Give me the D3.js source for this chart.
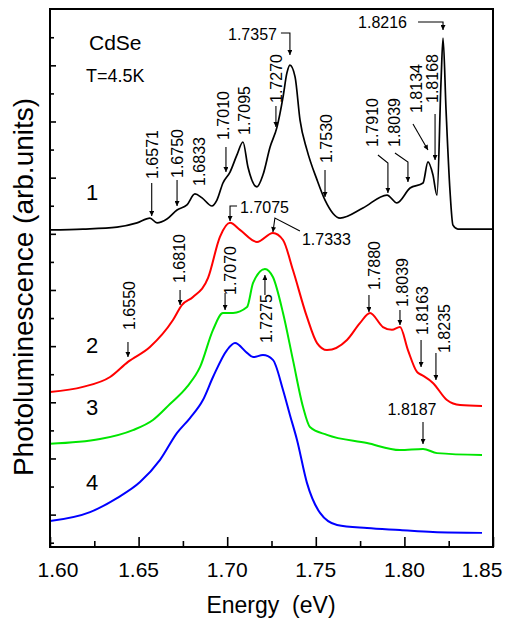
<!DOCTYPE html>
<html><head><meta charset="utf-8">
<script src="https://cdn.jsdelivr.net/npm/d3@7"></script>
<style>
body{margin:0;background:#fff}
svg{display:block}
text{font-family:"Liberation Sans",Arial,Helvetica,sans-serif;fill:#000}
</style>
</head><body>
<svg id="chart" width="509" height="621"></svg>
<script>
// ---------- data ----------
const xTickValues = [1.60, 1.65, 1.70, 1.75, 1.80, 1.85];
const xTickLabels = ["1.60", "1.65", "1.70", "1.75", "1.80", "1.85"];
const xMinorTicks = [1.625, 1.675, 1.725, 1.775, 1.825];
const yMajorTicks = [1, 3, 5, 7, 9, 11, 13, 15, 17];
const yMinorTicks = [0, 2, 4, 6, 8, 10, 12, 14, 16, 18];

const curveNames = ["1", "2", "3", "4"];
const curveColors = ["#000000", "#ff0000", "#00e600", "#0000ff"];

const energy1 = [1.600,1.6186,1.6378,1.6491,1.6564,1.6604,1.6660,1.6717,1.6773,1.6818,1.6858,1.6914,1.6942,1.6976,1.7016,1.7055,1.7089,1.7117,1.7168,1.7202,1.7242,1.7281,1.7315,1.7337,1.7354,1.7383,1.7411,1.7450,1.7507,1.7552,1.7637,1.7766,1.7902,1.7958,1.8032,1.8105,1.8133,1.8161,1.8184,1.8207,1.8218,1.8235,1.8257,1.8274,1.8302,1.8500];
const pl1 = [11.14,11.17,11.24,11.39,11.56,11.39,11.53,11.85,12.03,12.42,12.28,11.99,12.20,12.81,13.20,13.81,14.27,13.38,12.67,13.10,14.09,14.80,15.87,16.73,17.01,16.59,15.05,13.99,12.92,12.20,11.56,11.92,12.38,12.10,12.63,12.81,13.56,13.10,12.38,16.48,17.97,15.41,12.56,11.31,11.17,11.17];

const energy2 = [1.600,1.6186,1.6339,1.6440,1.6564,1.6694,1.6745,1.6807,1.6892,1.6959,1.7016,1.7072,1.7168,1.7258,1.7315,1.7371,1.7450,1.7507,1.7563,1.7676,1.7749,1.7806,1.7879,1.7930,1.7975,1.8020,1.8071,1.8099,1.8161,1.8240,1.8314,1.8438];
const pl2 = [5.37,5.55,5.90,6.44,6.97,7.93,8.47,8.75,9.43,10.89,11.39,11.14,10.71,11.03,10.78,9.71,8.04,7.11,6.86,7.22,7.82,8.18,7.68,7.58,7.68,6.86,6.08,5.97,5.69,5.08,4.90,4.87];

const energy3 = [1.600,1.6282,1.6468,1.6581,1.6677,1.6773,1.6847,1.6920,1.6976,1.7033,1.7112,1.7146,1.7213,1.7258,1.7315,1.7371,1.7428,1.7467,1.7563,1.7789,1.7975,1.8105,1.8184,1.8438];
const pl3 = [3.52,3.69,4.01,4.37,4.94,5.55,6.26,7.58,8.18,8.18,8.39,9.25,9.75,9.46,8.18,6.51,4.83,4.12,3.84,3.55,3.30,3.34,3.19,3.12];

const energy4 = [1.600,1.6226,1.6378,1.6508,1.6621,1.6717,1.6790,1.6863,1.6920,1.6999,1.7044,1.7112,1.7146,1.7202,1.7258,1.7315,1.7354,1.7394,1.7450,1.7524,1.7620,1.7789,1.7975,1.8161,1.8438];
const pl4 = [0.77,1.09,1.59,2.16,2.95,3.91,4.44,5.08,5.90,6.86,7.11,6.76,6.61,6.68,6.51,5.44,4.55,3.66,2.13,1.06,0.63,0.52,0.45,0.38,0.35];

// curve number labels (energy, intensity)
const curveLabelE = [1.6203, 1.6203, 1.6203, 1.6203];
const curveLabelV = [12.20, 6.76, 4.55, 1.88];

// peak annotations: label, arrow-tip energy, arrow-tip intensity
const annLabels = ["1.6571","1.6750","1.6833","1.7010","1.7095","1.7270","1.7357","1.7530","1.7910","1.8039","1.8134","1.8168","1.8216",
                   "1.6550","1.6810","1.7075","1.7333","1.7880","1.8039","1.8163","1.8235",
                   "1.7070","1.7275","1.8187"];
const annE = [1.6574,1.6717,1.6841,1.6993,1.7095,1.7275,1.7354,1.7552,1.7907,1.8020,1.8133,1.8173,1.8218,
              1.6440,1.6734,1.7016,1.7258,1.7800,1.7975,1.8094,1.8178,
              1.6988,1.7213,1.8105];
const annV = [11.635,11.991,12.703,13.202,14.519,14.804,17.368,12.311,12.454,12.846,13.985,13.629,18.259,
              6.613,8.465,11.457,11.065,8.216,7.753,6.257,5.794,
              8.287,9.533,3.515];

// ---------- layout (styling of annotations, pixel offsets from tip) ----------
const annLayout = [
  {p:[[0,-33],[0,0]], tx:6, ty:-37, r:true},
  {p:[[0,-26],[0,0]], tx:6, ty:-28, r:true},
  {p:null, tx:6, ty:0, r:true},
  {p:[[0,-25],[0,0]], tx:3, ty:-32, r:true},
  {p:null, tx:6, ty:0, r:true},
  {p:[[0,-21],[0,0]], tx:6, ty:-24, r:true},
  {p:[[-9,-22],[0,-22],[0,0]], tx:-13, ty:-15, r:false, a:"end"},
  {p:[[0,-27],[0,0]], tx:7, ty:-34, r:true},
  {p:[[-10,-38],[0,-30],[0,0]], tx:-10, ty:-46, r:true},
  {p:[[-13,-29],[0,-20],[0,0]], tx:-8, ty:-35, r:true},
  {p:[[-15,-26],[0,0]], tx:-6, ty:-37, r:true},
  {p:[[0,-46],[0,0]], tx:3, ty:-57, r:true},
  {p:[[-25,-8],[0,-8],[0,0]], tx:-36, ty:-2, r:false, a:"end"},
  {p:[[0,-15],[0,0]], tx:7, ty:-27, r:true},
  {p:[[0,-15],[0,0]], tx:5, ty:-22, r:true},
  {p:[[7,-15],[0,-15],[0,0]], tx:10, ty:-8, r:false, a:"start"},
  {p:[[27,-1],[2,-14],[0,0]], tx:29, ty:13, r:false, a:"start"},
  {p:[[0,-17],[0,0]], tx:11, ty:-22, r:true},
  {p:[[0,-15],[0,0]], tx:8, ty:-18, r:true},
  {p:[[0,-27],[0,0]], tx:7, ty:-32, r:true},
  {p:[[0,-27],[0,0]], tx:14, ty:-27, r:true},
  {p:[[0,-17],[0,0]], tx:11, ty:-15, r:true},
  {p:[[0,20],[0,0]], tx:7, ty:68, r:true},
  {p:[[0,-22],[0,0]], tx:-11, ty:-29, r:false, a:"middle"}
];

// ---------- drawing ----------
const svg = d3.select("#chart");
const L = 50, R = 493, T = 9, B = 547;
const x = d3.scaleLinear().domain([1.60, 1.85]).range([L, R]);
const y = d3.scaleLinear().domain([-0.153, 19.006]).range([B, T]);

svg.append("defs").append("marker")
  .attr("id", "ah").attr("viewBox", "0 0 10 10")
  .attr("refX", 10).attr("refY", 5)
  .attr("markerWidth", 7).attr("markerHeight", 5)
  .attr("markerUnits", "userSpaceOnUse")
  .attr("orient", "auto")
  .append("path").attr("d", "M0,0 L10,5 L0,10 Z").attr("fill", "#000");

const series = [
  {e: energy1, v: pl1},
  {e: energy2, v: pl2},
  {e: energy3, v: pl3},
  {e: energy4, v: pl4}
];
const line = d3.line().x(d => x(d[0])).y(d => y(d[1])).curve(d3.curveMonotoneX);

series.forEach((s, i) => {
  svg.append("path")
    .attr("d", line(s.e.map((e, k) => [e, s.v[k]])))
    .attr("fill", "none")
    .attr("stroke", curveColors[i])
    .attr("stroke-width", i === 0 ? 1.7 : 2)
    .attr("stroke-linejoin", "round");
});

// axes (ticks pointing inward)
const gx = svg.append("g").attr("transform", `translate(0,${B})`);
gx.call(d3.axisBottom(x).tickValues(xTickValues).tickSize(-10).tickFormat(""));
gx.call(g => g.select(".domain").remove());
const gx2 = svg.append("g").attr("transform", `translate(0,${B})`);
gx2.call(d3.axisBottom(x).tickValues(xMinorTicks).tickSize(-6).tickFormat(""));
gx2.call(g => g.select(".domain").remove());
const gy = svg.append("g").attr("transform", `translate(${L},0)`);
gy.call(d3.axisLeft(y).tickValues(yMajorTicks).tickSize(-6).tickFormat(""));
gy.call(g => g.select(".domain").remove());
const gy2 = svg.append("g").attr("transform", `translate(${L},0)`);
gy2.call(d3.axisLeft(y).tickValues(yMinorTicks).tickSize(-4).tickFormat(""));
gy2.call(g => g.select(".domain").remove());
svg.selectAll(".tick line").attr("stroke", "#000").attr("stroke-width", 1.6);

svg.append("rect").attr("x", L).attr("y", T).attr("width", R - L).attr("height", B - T)
  .attr("fill", "none").attr("stroke", "#000").attr("stroke-width", 2);

// tick labels
const edgeShift = [8, 0, 0, 0, 0, -11];
xTickValues.forEach((v, i) => {
  svg.append("text").attr("x", x(v) + edgeShift[i]).attr("y", 577)
    .attr("text-anchor", "middle").attr("font-size", 21).text(xTickLabels[i]);
});

// axis titles
svg.append("text").attr("x", 271).attr("y", 613).attr("text-anchor", "middle")
  .attr("font-size", 23).style("white-space", "pre").attr("xml:space", "preserve")
  .text("Energy  (eV)");
svg.append("text").attr("transform", "translate(33,287) rotate(-90)")
  .attr("text-anchor", "middle").attr("font-size", 28)
  .text("Photoluminescence (arb.units)");

// sample text
svg.append("text").attr("x", 89).attr("y", 50).attr("font-size", 21).text("CdSe");
svg.append("text").attr("x", 86).attr("y", 82).attr("font-size", 18).text("T=4.5K");

// curve numbers
curveNames.forEach((n, i) => {
  svg.append("text").attr("x", x(curveLabelE[i])).attr("y", y(curveLabelV[i]))
    .attr("font-size", 22).text(n);
});

// annotations
annLabels.forEach((lab, i) => {
  const px = x(annE[i]), py = y(annV[i]);
  const lay = annLayout[i];
  if (lay.p) {
    svg.append("path")
      .attr("d", d3.line()(lay.p.map(q => [px + q[0], py + q[1]])))
      .attr("fill", "none").attr("stroke", "#000").attr("stroke-width", 1.1)
      .attr("marker-end", "url(#ah)");
  }
  const t = svg.append("text").attr("font-size", 16).text(lab);
  if (lay.r) {
    t.attr("transform", `translate(${px + lay.tx},${py + lay.ty}) rotate(-90)`)
     .attr("text-anchor", "start");
  } else {
    t.attr("x", px + lay.tx).attr("y", py + lay.ty).attr("text-anchor", lay.a);
  }
});
</script>
</body></html>
